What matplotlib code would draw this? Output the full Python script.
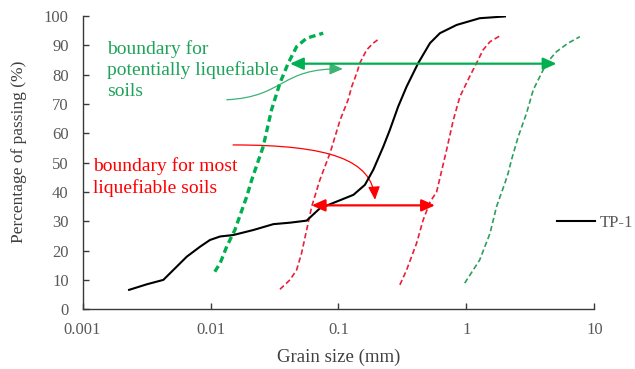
import numpy as np
import matplotlib as mpl
mpl.use("Agg")
import matplotlib.pyplot as plt
from matplotlib.patches import FancyArrowPatch
from matplotlib.path import Path
from matplotlib.ticker import FixedLocator, FixedFormatter, NullLocator

# grain-size distribution of TP-1
tp1_size = [0.00231, 0.00318, 0.00428, 0.00652, 0.00828, 0.0099, 0.0119, 0.0151,
            0.0216, 0.031, 0.0418, 0.0564, 0.0716, 0.0969, 0.131, 0.161, 0.187,
            0.224, 0.252, 0.293, 0.341, 0.42, 0.519, 0.621, 0.838, 1.27, 2.0]
tp1_pass = [6.6, 8.5, 10.0, 17.9, 21.3, 23.6, 24.8, 25.3, 27.0, 29.0, 29.5, 30.2,
            34.4, 36.7, 39.0, 42.4, 47.5, 55.4, 61.1, 69.1, 75.9, 83.9, 90.7,
            94.1, 96.9, 99.2, 99.8]

# boundary for potentially liquefiable soils (fine side)
pot_fine_size = [0.0108, 0.0119, 0.0134, 0.0155, 0.018, 0.0192, 0.021, 0.0258,
                 0.030, 0.0349, 0.0405, 0.0471, 0.0564, 0.076]
pot_fine_pass = [12.8, 15.7, 21.4, 27.0, 35.0, 38.4, 44.1, 55.4, 68.0, 77.1,
                 83.9, 89.5, 92.4, 94.1]

# boundary for potentially liquefiable soils (coarse side)
pot_coarse_size = [0.97, 1.27, 1.53, 1.72, 2.0, 2.12, 2.25, 2.54, 2.95, 3.33,
                   3.75, 4.23, 5.06, 6.23, 7.7]
pot_coarse_pass = [8.9, 16.8, 25.9, 35.0, 43.0, 46.4, 50.9, 58.8, 66.8, 74.8,
                   79.3, 83.9, 87.8, 90.7, 92.9]

# boundary for most liquefiable soils (fine side)
most_fine_size = [0.0349, 0.0418, 0.0471, 0.0515, 0.0564, 0.0618, 0.0716, 0.0859,
                  0.103, 0.119, 0.127, 0.139, 0.147, 0.166, 0.187, 0.211]
most_fine_pass = [6.8, 10.0, 13.4, 19.1, 27.0, 35.0, 44.1, 53.2, 64.5, 71.4,
                  75.9, 80.5, 83.9, 88.4, 90.7, 92.4]

# boundary for most liquefiable soils (coarse side)
most_coarse_size = [0.302, 0.341, 0.408, 0.459, 0.519, 0.585, 0.70, 0.79, 0.89,
                    1.06, 1.2, 1.35, 1.53, 1.88]
most_coarse_pass = [8.3, 13.4, 22.5, 30.4, 36.5, 40.0, 54.3, 64.5, 72.5, 79.3,
                    83.9, 88.4, 91.2, 93.5]

# range arrows between boundaries: (x_left, x_right, y)
pot_range = (0.0418, 5.06, 83.7)
most_range = (0.0618, 0.568, 35.4)

# leader curves (cubic Bezier: start, control, control, tip)
pot_leader = [(0.0134, 71.4), (0.0382, 72.4), (0.0349, 82.3), (0.108, 81.9)]
most_leader = [(0.0150, 56.0), (0.0859, 56.0), (0.183, 50.9), (0.193, 37.3)]

x_ticks = [0.001, 0.01, 0.1, 1, 10]
x_tick_labels = ["0.001", "0.01", "0.1", "1", "10"]
y_ticks = list(range(0, 101, 10))

GREEN = "#00B050"
GREEN_DARK = "#2E9E5E"
GREEN_TEXT = "#1FA35A"
RED = "#FF0000"
RED_DASH = "#E8203A"
GRAY = "#595959"

mpl.rcParams.update({
    "font.family": ["Liberation Serif", "DejaVu Serif"],
    "font.size": 12,
})

fig = plt.figure(figsize=(6.35, 3.69), dpi=100)
ax = fig.add_axes([0.130, 0.162, 0.806, 0.795])

ax.plot(pot_fine_size, pot_fine_pass, color=GREEN, lw=2.4,
        linestyle=(0, (2.0, 1.2)))
ax.plot(most_fine_size, most_fine_pass, color=RED_DASH, lw=1.2,
        linestyle=(0, (3.2, 1.8)))
ax.plot(most_coarse_size, most_coarse_pass, color=RED_DASH, lw=1.2,
        linestyle=(0, (3.2, 1.8)))
ax.plot(pot_coarse_size, pot_coarse_pass, color=GREEN_DARK, lw=1.2,
        linestyle=(0, (3.2, 1.8)))
ax.plot(tp1_size, tp1_pass, color="black", lw=1.5, label="TP-1")

# double-headed range arrows
for (x0, x1, y), col in [(pot_range, GREEN), (most_range, RED)]:
    ax.annotate("", xy=(x1, y), xytext=(x0, y),
                arrowprops=dict(arrowstyle="<|-|>,head_length=0.8,head_width=0.36",
                                mutation_scale=10, color=col, lw=1.6,
                                shrinkA=0, shrinkB=0))

# curved leaders from the labels
codes = [Path.MOVETO, Path.CURVE4, Path.CURVE4, Path.CURVE4]
for pts, col in [(pot_leader, "#3CB371"), (most_leader, RED)]:
    arr = FancyArrowPatch(path=Path(pts, codes),
                          arrowstyle="-|>,head_length=0.8,head_width=0.36",
                          mutation_scale=10, color=col, lw=0.9,
                          transform=ax.transData)
    ax.add_patch(arr)

ax.text(0.048, 0.918, "boundary for\npotentially liquefiable\nsoils",
        transform=ax.transAxes, color=GREEN_TEXT, fontsize=14,
        ha="left", va="top", linespacing=1.27)
ax.text(0.020, 0.518, "boundary for most\nliquefiable soils",
        transform=ax.transAxes, color=RED, fontsize=14,
        ha="left", va="top", linespacing=1.32)

ax.set_xscale("log")
ax.set_xlim(0.001, 10)
ax.set_ylim(0, 100)
ax.xaxis.set_major_locator(FixedLocator(x_ticks))
ax.xaxis.set_major_formatter(FixedFormatter(x_tick_labels))
ax.xaxis.set_minor_locator(NullLocator())
ax.set_yticks(y_ticks)

for s in ["top", "right"]:
    ax.spines[s].set_visible(False)
for s in ["left", "bottom"]:
    ax.spines[s].set_color("#3A3A3A")
    ax.spines[s].set_linewidth(1.0)
ax.tick_params(axis="both", direction="in", length=4, width=1.0,
               color="#3A3A3A", labelcolor=GRAY, labelsize=12)
ax.tick_params(axis="x", pad=9)
ax.tick_params(axis="y", pad=10)

ax.set_xlabel("Grain size (mm)", fontsize=13.5, color="#404040")
ax.set_ylabel("Percentage of passing (%)", fontsize=12.5, color="#404040")
ax.xaxis.set_label_coords(0.5, -0.135)
ax.yaxis.set_label_coords(-0.108, 0.538)

fig.legend(loc="center left", bbox_to_anchor=(0.877, 0.395), frameon=False,
           handlelength=2.3, handletextpad=0.3, borderpad=0, borderaxespad=0,
           fontsize=12, labelcolor=GRAY)

fig.savefig("out.png", dpi=100)
